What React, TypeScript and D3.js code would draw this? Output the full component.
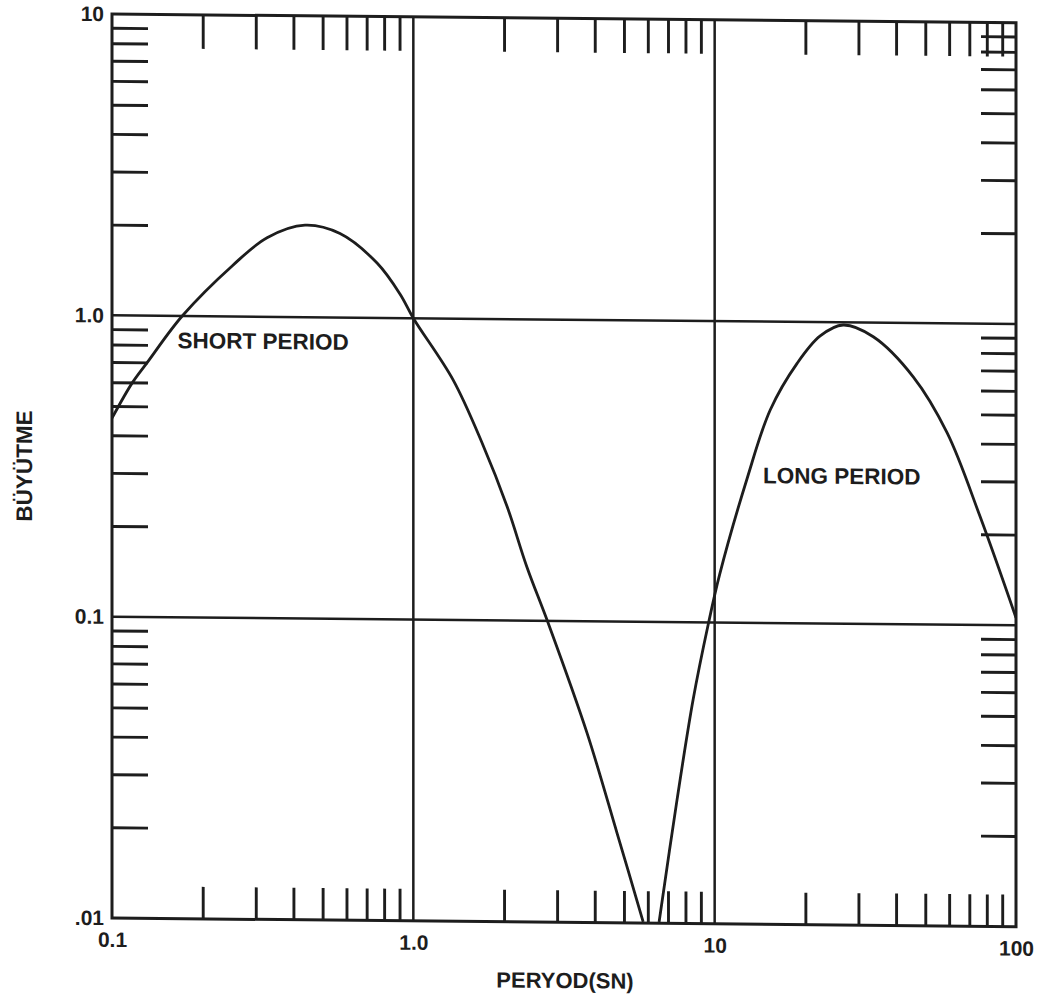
import React, { useRef, useEffect } from 'react';
import * as d3 from 'd3';

// short-period branch (left lobe, dives to the bottom axis)
const periodShort = [0.1, 0.117, 0.131, 0.171, 0.252, 0.327, 0.437, 0.571, 0.758, 0.904, 1.0, 1.355, 1.69, 2.05, 2.38, 2.8, 3.77, 4.74, 5.79];
const ampShort = [0.456, 0.6, 0.7, 1.0, 1.48, 1.83, 2.02, 1.9, 1.52, 1.2, 1.0, 0.626, 0.388, 0.238, 0.151, 0.0985, 0.0426, 0.0199, 0.0101];

// long-period branch (right lobe)
const periodLong = [6.54, 7.5, 8.48, 9.51, 10.4, 12.8, 15.3, 18.8, 22.4, 26.7, 33.6, 45.6, 59.1, 76, 100];
const ampLong = [0.0101, 0.0257, 0.0553, 0.098, 0.145, 0.3, 0.51, 0.73, 0.9, 0.98, 0.898, 0.663, 0.433, 0.229, 0.106];

const xDecades = [0.1, 1, 10];
const yDecades = [0.01, 0.1, 1];
const minorFactors = [2, 3, 4, 5, 6, 7, 8, 9];

const xTickValues = [0.1, 1, 10, 100];
const xTickLabels = ['0.1', '1.0', '10', '100'];
const yTickValues = [0.01, 0.1, 1, 10];
const yTickLabels = ['.01', '0.1', '1.0', '10'];

const xGrid = [1, 10];
const yGrid = [1, 0.1];

const notes = [
  { text: 'SHORT PERIOD', period: 0.165, amp: 0.782 },
  { text: 'LONG PERIOD', period: 14.47, amp: 0.291 },
];

const xTitle = 'PERYOD(SN)';
const yTitle = 'BÜYÜTME';

const INK = '#1d1d1d';
const FONT = '"Liberation Sans", Arial, sans-serif';

export default function App() {
  const svgRef = useRef<SVGSVGElement>(null);

  useEffect(() => {
    if (!svgRef.current) return;
    const svg = d3.select(svgRef.current);
    svg.selectAll('*').remove();

    const margin = { top: 14, left: 112 };
    const width = 904;
    const height = 904;

    // the scanned page is slightly sheared, so the whole chart leans a bit
    const g = svg.append('g')
      .attr('transform', `translate(${margin.left},${margin.top}) skewY(0.55)`);

    const x = d3.scaleLog().domain([0.1, 100]).range([0, width]);
    const y = d3.scaleLog().domain([0.01, 10]).range([height, 0]);

    const minorX = xDecades.flatMap(d => minorFactors.map(k => k * d));
    const minorY = yDecades.flatMap(d => minorFactors.map(k => k * d));

    const addTicks = (axis: any, transform: string) => {
      const a = g.append('g').attr('transform', transform).call(axis);
      a.select('.domain').remove();
      a.selectAll('line').attr('stroke', INK).attr('stroke-width', 2.9);
      return a;
    };

    // inward minor ticks on all four sides
    addTicks(d3.axisLeft(y).tickValues(minorY).tickSize(-36).tickFormat(() => ''), 'translate(0,0)');
    addTicks(d3.axisRight(y).tickValues(minorY).tickSize(-35).tickFormat(() => ''), `translate(${width},0)`);
    addTicks(d3.axisTop(x).tickValues(minorX).tickSize(-34).tickFormat(() => ''), 'translate(0,0)');
    addTicks(d3.axisBottom(x).tickValues(minorX).tickSize(-32).tickFormat(() => ''), `translate(0,${height})`);

    // grid lines at the inner decades
    xGrid.forEach(v => {
      g.append('line')
        .attr('x1', x(v)).attr('x2', x(v))
        .attr('y1', 0).attr('y2', height)
        .attr('stroke', INK).attr('stroke-width', 2.5);
    });
    yGrid.forEach(v => {
      g.append('line')
        .attr('x1', 0).attr('x2', width)
        .attr('y1', y(v)).attr('y2', y(v))
        .attr('stroke', INK).attr('stroke-width', 2.5);
    });

    // frame
    g.append('rect')
      .attr('width', width).attr('height', height)
      .attr('fill', 'none').attr('stroke', INK).attr('stroke-width', 3);

    // decade labels
    const yLab = g.append('g')
      .call(d3.axisLeft(y).tickValues(yTickValues).tickSize(0).tickPadding(8)
        .tickFormat((_, i) => yTickLabels[i]));
    yLab.select('.domain').remove();
    yLab.selectAll('text')
      .attr('fill', INK).attr('font-size', 21).attr('font-weight', 'bold').attr('font-family', FONT);

    const xLab = g.append('g')
      .attr('transform', `translate(0,${height})`)
      .call(d3.axisBottom(x).tickValues(xTickValues).tickSize(0).tickPadding(14)
        .tickFormat((_, i) => xTickLabels[i]));
    xLab.select('.domain').remove();
    xLab.selectAll('text')
      .attr('fill', INK).attr('font-size', 21).attr('font-weight', 'bold').attr('font-family', FONT);

    // response curve
    g.append('clipPath').attr('id', 'plot-clip')
      .append('rect').attr('width', width).attr('height', height);

    const line = d3.line<[number, number]>()
      .x(d => x(d[0]))
      .y(d => y(d[1]))
      .curve(d3.curveCatmullRom.alpha(0.5));

    const branches: [number, number][][] = [
      periodShort.map((p, i) => [p, ampShort[i]] as [number, number]),
      periodLong.map((p, i) => [p, ampLong[i]] as [number, number]),
    ];
    branches.forEach(b => {
      g.append('path')
        .datum(b)
        .attr('clip-path', 'url(#plot-clip)')
        .attr('fill', 'none')
        .attr('stroke', INK)
        .attr('stroke-width', 2.8)
        .attr('stroke-linejoin', 'round')
        .attr('d', line);
    });

    // annotations
    notes.forEach(n => {
      g.append('text')
        .attr('x', x(n.period))
        .attr('y', y(n.amp))
        .attr('fill', INK)
        .attr('font-size', 22.5)
        .attr('font-weight', 'bold')
        .attr('font-family', FONT)
        .text(n.text);
    });

    // axis titles
    g.append('text')
      .attr('transform', `translate(-88,453) rotate(-90)`)
      .attr('text-anchor', 'middle')
      .attr('dy', '0.35em')
      .attr('fill', INK)
      .attr('font-size', 22.5)
      .attr('font-weight', 'bold')
      .attr('font-family', FONT)
      .text(yTitle);

    g.append('text')
      .attr('x', 453)
      .attr('y', 962)
      .attr('text-anchor', 'middle')
      .attr('dy', '0.35em')
      .attr('fill', INK)
      .attr('font-size', 22)
      .attr('font-weight', 'bold')
      .attr('font-family', FONT)
      .text(xTitle);
  }, []);

  return (
    <svg
      ref={svgRef}
      width={1037}
      height={1000}
      style={{ position: 'absolute', left: 0, top: 0, background: '#fff' }}
    />
  );
}
